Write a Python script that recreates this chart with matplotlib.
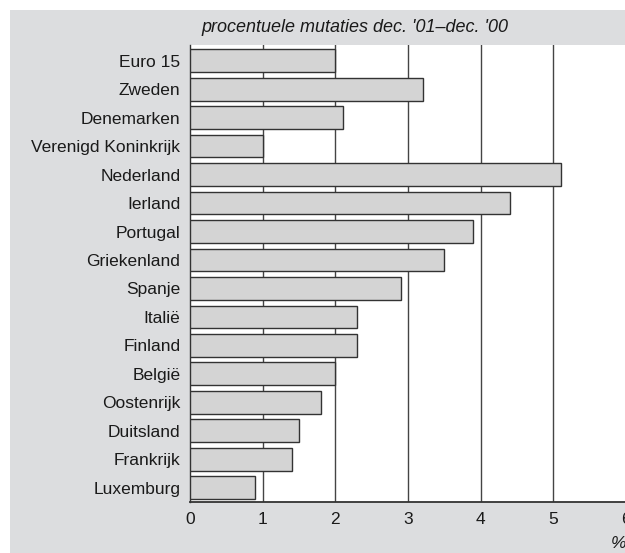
import matplotlib.pyplot as plt
from matplotlib.patches import Rectangle

plt.rcParams['font.family'] = ['Liberation Sans', 'DejaVu Sans']

landen = ['Euro 15', 'Zweden', 'Denemarken', 'Verenigd Koninkrijk', 'Nederland',
          'Ierland', 'Portugal', 'Griekenland', 'Spanje', 'Italië', 'Finland',
          'België', 'Oostenrijk', 'Duitsland', 'Frankrijk', 'Luxemburg']
mutaties = [2.0, 3.2, 2.1, 1.0, 5.1, 4.4, 3.9, 3.5, 2.9, 2.3, 2.3,
            2.0, 1.8, 1.5, 1.4, 0.9]
xticks = [0, 1, 2, 3, 4, 5, 6]

fig = plt.figure(figsize=(6.25, 5.53), dpi=100)
fig.patch.set_facecolor('white')
# grey panel, white strip on top and left
fig.patches.append(Rectangle((10 / 625, 0), 1, 1 - 10 / 553, transform=fig.transFigure,
                             facecolor='#dcdddf', edgecolor='none', zorder=-10))

ax = fig.add_axes([190 / 625, 1 - 502 / 553, 436 / 625, 457 / 553])
ax.set_facecolor('white')

y = list(range(len(landen)))
ax.barh(y, mutaties, height=0.8, color='#d4d4d4', edgecolor='#333333',
        linewidth=1.0, zorder=3)
ax.set_ylim(len(landen) - 0.5, -0.55)
ax.set_xlim(0, 6)
ax.set_yticks(y)
ax.set_yticklabels(landen, fontsize=12.5, color='#1a1a1a')
ax.set_xticks(xticks)
ax.set_xticklabels([str(t) for t in xticks], fontsize=12.5, color='#1a1a1a')
ax.tick_params(length=0, pad=7)
ax.tick_params(axis='y', pad=7)

for t in xticks[1:]:
    ax.axvline(t, color='#444444', linewidth=1.0, zorder=1)

for s in ['top', 'right']:
    ax.spines[s].set_visible(False)
ax.spines['left'].set_color('#333333')
ax.spines['bottom'].set_color('#333333')
ax.spines['bottom'].set_linewidth(1.3)
ax.spines['left'].set_linewidth(1.0)

fig.text(355 / 625, 1 - 27 / 553, "procentuele mutaties dec. '01–dec. '00",
         ha='center', va='center', fontsize=13, style='italic', color='#1a1a1a')
fig.text(611 / 625, 1 - 543 / 553, '%', ha='left', va='center', fontsize=12.5,
         style='italic', color='#1a1a1a')

fig.savefig('out.png', dpi=100, facecolor=fig.get_facecolor())
